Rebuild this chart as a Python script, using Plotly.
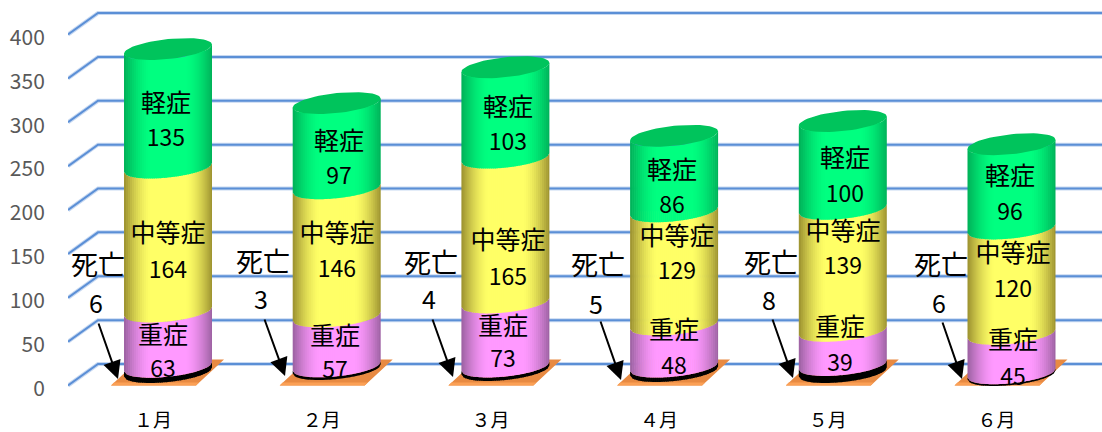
import math
import plotly.graph_objects as go

# ---- data ----
months = ["１月", "２月", "３月", "４月", "５月", "６月"]
death_drawn = [6, 3, 4, 5, 8, 2]
death_label = [6, 3, 4, 5, 8, 6]
severe = [63, 57, 73, 48, 39, 45]
moderate = [164, 146, 165, 129, 139, 120]
mild = [135, 97, 103, 86, 100, 96]
y_ticks = [0, 50, 100, 150, 200, 250, 300, 350, 400]

# ---- pixel geometry of the 3-D look ----
W, H = 1102, 432
L_M, B_M = 68, 40
PX_PER_CAT = 168.7
CX0 = 168.0
Y0_PX = 385.5
PX_PER_UNIT = 0.8775
R = 44.0          # cylinder half width
B = 10.0          # ellipse half height
TILT = 4.5        # ellipse tilt
BASE_PX = [372.0, 369.0, 370.0, 371.0, 372.0, 375.0]   # centre of each cylinder base
DEPTH_X, DEPTH_Y = 30.0, 21.5
TEXT_SHIFT = 3    # vertical centring of the text boxes


def xd(px):
    return (px - CX0) / PX_PER_CAT


def yd(px):
    return (Y0_PX - px) / PX_PER_UNIT


base_val = [yd(b) for b in BASE_PX]
dxu = 1 / PX_PER_CAT
duy = 1 / PX_PER_UNIT

fig = go.Figure()

series = [
    ("死亡", death_drawn, (0, 0, 0), (0, 0, 0)),
    ("重症", severe, (255, 153, 255), (160, 100, 165)),
    ("中等症", moderate, (255, 255, 102), (160, 150, 50)),
    ("軽症", mild, (0, 255, 128), (0, 180, 90)),
]

# real value bars underneath the shaded cylinder skin
cum = list(base_val)
for name, vals, c, e in series:
    fig.add_trace(go.Bar(x=list(range(6)), y=vals, base=list(cum), width=0.85 * 2 * R * dxu,
                         marker=dict(color=f"rgb{c}", line=dict(width=0)), name=name, hoverinfo="skip"))
    cum = [a + b for a, b in zip(cum, vals)]

# gridlines: front wall tick -> back wall -> right edge
gx, gy = [], []
for v in y_ticks:
    gx += [xd(L_M), xd(L_M + DEPTH_X), xd(W), None]
    gy += [v, v + DEPTH_Y * duy, v + DEPTH_Y * duy, None]
fig.add_trace(go.Scatter(x=gx, y=gy, mode="lines", line=dict(color="rgba(91,143,214,0.35)", width=4), hoverinfo="skip"))
fig.add_trace(go.Scatter(x=gx, y=gy, mode="lines", line=dict(color="#5B8FD6", width=2), hoverinfo="skip"))

# floor plates
px, py, ex, ey = [], [], [], []
for i in range(6):
    px += [i - 57 * dxu, i + 28 * dxu, i + 56 * dxu, i - 29 * dxu, i - 57 * dxu, None]
    py += [0, 0, 26 * duy, 26 * duy, 0, None]
    ex += [i - 57 * dxu, i + 28 * dxu, i + 31 * dxu, i - 54 * dxu, i - 57 * dxu, None]
    ey += [0, 0, 3 * duy, 3 * duy, 0, None]
fig.add_trace(go.Scatter(x=px, y=py, mode="lines", fill="toself", fillcolor="#E88A42", line=dict(width=0), hoverinfo="skip"))
fig.add_trace(go.Scatter(x=ex, y=ey, mode="lines", fill="toself", fillcolor="#FBA055", line=dict(width=0), hoverinfo="skip"))


def curve(t):
    """front edge of the tilted ellipse, in value units above its centre"""
    return (TILT * t - B * math.sqrt(max(0, 1 - t * t))) * duy


N = 44
for idx, (name, vals, c, e) in enumerate(series):
    running = list(base_val)
    for s in series[:idx]:
        running = [a + b for a, b in zip(running, s[1])]
    bands = {}
    for i in range(6):
        lo, hi = running[i], running[i] + vals[i]
        for k in range(N):
            t0 = -1 + 2 * k / N
            t1 = min(1, t0 + 2 / N * 1.3)
            level = k if k < N / 2 else N - 1 - k
            bands.setdefault(level, []).append((i, t0, t1, lo, hi))
    for level in sorted(bands):
        tm = 1 - level * 2 / N
        f = max(0, (tm - 0.4) / 0.6) ** 1.6
        col = tuple(round(c[j] + (e[j] - c[j]) * f) for j in range(3))
        xs, ys = [], []
        for i, t0, t1, lo, hi in bands[level]:
            xs += [i + t0 * R * dxu, i + t1 * R * dxu, i + t1 * R * dxu, i + t0 * R * dxu, i + t0 * R * dxu, None]
            ys += [lo + curve(t0), lo + curve(t1), hi + curve(t1), hi + curve(t0), lo + curve(t0), None]
        fig.add_trace(go.Scatter(x=xs, y=ys, mode="lines", fill="toself", fillcolor=f"rgb{col}",
                                 line=dict(width=0), hoverinfo="skip"))

# top caps
tx, ty = [], []
for i in range(6):
    top = base_val[i] + death_drawn[i] + severe[i] + moderate[i] + mild[i]
    for k in range(61):
        a = 2 * math.pi * k / 60
        t = math.cos(a)
        tx.append(i + t * R * dxu)
        ty.append(top + (TILT * t + B * math.sin(a)) * duy)
    tx.append(None)
    ty.append(None)
fig.add_trace(go.Scatter(x=tx, y=ty, mode="lines", fill="toself", fillcolor="#00C45C", line=dict(width=0), hoverinfo="skip"))

# ---- text boxes (pixel centres in the picture) ----
name_pos = {
    "軽症": [(166, 103), (339, 141), (508, 107), (672, 170), (845, 158), (1010, 176)],
    "中等症": [(168, 233), (337, 233), (508, 240), (677, 236), (843, 231), (1013, 253)],
    "重症": [(163, 335), (335, 336), (503, 326), (674, 330), (840, 327), (1013, 340)],
    "死亡": [(98, 265), (263, 262), (431, 263), (598, 265), (771, 263), (941, 265)],
}
value_pos = {
    "軽症": [(166, 137), (339, 175), (508, 141), (672, 204), (845, 193), (1010, 211)],
    "中等症": [(168, 269), (337, 268), (508, 276), (677, 270), (843, 265), (1013, 288)],
    "重症": [(163, 368), (335, 369), (503, 358), (674, 365), (840, 362), (1013, 376)],
    "死亡": [(96, 304), (261, 300), (429, 300), (596, 305), (769, 301), (939, 304)],
}
label_vals = {"軽症": mild, "中等症": moderate, "重症": severe, "死亡": death_label}
FONT = "Noto Sans CJK JP"
for name, pos in name_pos.items():
    fig.add_trace(go.Scatter(x=[xd(p[0]) for p in pos], y=[yd(p[1] + TEXT_SHIFT) for p in pos], mode="text",
                             text=[name] * 6, textposition="middle center", cliponaxis=False,
                             textfont=dict(family=FONT, size=27 if name == "死亡" else 25, color="black"),
                             hoverinfo="skip"))
for name, pos in value_pos.items():
    fig.add_trace(go.Scatter(x=[xd(p[0]) for p in pos], y=[yd(p[1] + TEXT_SHIFT) for p in pos], mode="text",
                             text=[str(v) for v in label_vals[name]], textposition="middle center", cliponaxis=False,
                             textfont=dict(family=FONT, size=25 if name == "死亡" else 23, color="black"),
                             hoverinfo="skip"))

# arrows
arrow_start = [(98, 322), (264, 318), (432, 318), (600, 320), (772, 318), (942, 321)]
arrow_end = [(118, 379), (285, 376), (453, 377), (621, 380), (793, 378), (962, 379)]
for s, e in zip(arrow_start, arrow_end):
    fig.add_annotation(x=xd(e[0]), y=yd(e[1]), ax=xd(s[0]), ay=yd(s[1]), xref="x", yref="y", axref="x", ayref="y",
                       text="", showarrow=True, arrowhead=2, arrowsize=1.8, arrowwidth=2, arrowcolor="black")

fig.update_layout(
    width=W, height=H, showlegend=False, barmode="overlay",
    margin=dict(l=L_M, r=0, t=0, b=B_M, pad=0),
    paper_bgcolor="white", plot_bgcolor="white",
    xaxis=dict(range=[xd(L_M), xd(W)], tickmode="array", tickvals=[i - 15 * dxu for i in range(6)], ticktext=months,
               showgrid=False, zeroline=False, showline=False, ticks="outside", ticklen=11,
               tickcolor="rgba(0,0,0,0)", tickfont=dict(family=FONT, size=19, color="black")),
    yaxis=dict(range=[yd(H - B_M), yd(0)], tickmode="array", tickvals=[v - 3 * duy for v in y_ticks],
               ticktext=[str(v) for v in y_ticks],
               showgrid=False, zeroline=False, showline=False, ticks="outside", ticklen=18,
               tickcolor="rgba(0,0,0,0)", tickfont=dict(family=FONT, size=21, color="#595959")),
)
fig.write_html("out.html", config={"displayModeBar": False}, post_script="document.body.style.margin='0';")
